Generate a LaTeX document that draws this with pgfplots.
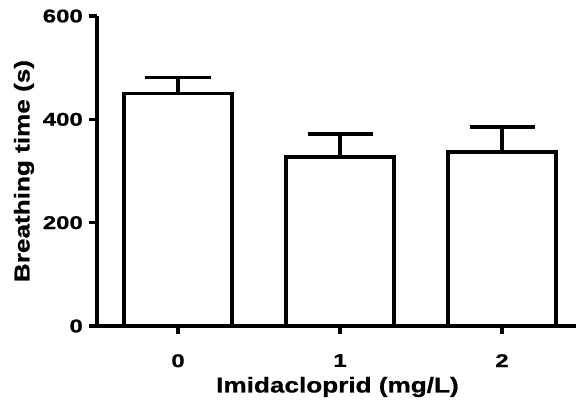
\documentclass[border=0pt]{standalone}
\usepackage{pgfplots}
\pgfplotsset{compat=1.18}
\usepackage{fontspec}
\setmainfont[FakeStretch=1.22, FakeBold=0.8]{Liberation Sans}
\newfontfamily\tickfont[FakeStretch=1.3, FakeBold=0.8]{Liberation Sans}

\begin{document}
\begin{tikzpicture}
\begin{axis}[
    name=ax,
    scale only axis,
    width=479bp, height=310bp,
    xmin=-0.5, xmax=2.4568,
    ymin=0, ymax=600,
    axis x line*=bottom,
    axis y line*=left,
    axis line style={line width=3.5bp, -},
    xtick={0,1,2},
    ytick={0,200,400,600},
    tick align=outside,
    major tick length=8bp,
    tick style={line width=3.2bp, black},
    /pgf/number format/assume math mode=true,
    tick label style={font=\fontsize{18.5}{19}\tickfont\bfseries},
    yticklabel style={anchor=east, inner sep=0pt, xshift=-6bp},
    xticklabel style={anchor=north, inner sep=0pt, yshift=-20bp},
    xlabel={Imidacloprid (mg/L)},
    ylabel={Breathing time (s)},
    label style={font=\fontsize{21.5}{22}\selectfont\bfseries},
    xlabel style={at={(axis description cs:0.502,-0.1968)}, anchor=center},
    ylabel style={at={(axis description cs:-0.1524,0.5)}, anchor=center, rotate=0},
    clip=false,
    ybar,
    bar width=0.667,
]
\addplot[
    fill=white, draw=black, line width=3.5bp,
    error bars/.cd,
        y dir=plus, y explicit,
        error bar style={line width=3.5bp, black},
        error mark options={line width=3.5bp, black, mark size=32.5bp, rotate=90},
] coordinates {
    (0, 450) +- (0, 31)
    (1, 327) +- (0, 45)
    (2, 337) +- (0, 48)
};
\end{axis}
\pgfresetboundingbox
\path (ax.south west) ++(-97bp,-75bp) rectangle ++(576bp,401bp);
\end{tikzpicture}
\end{document}
